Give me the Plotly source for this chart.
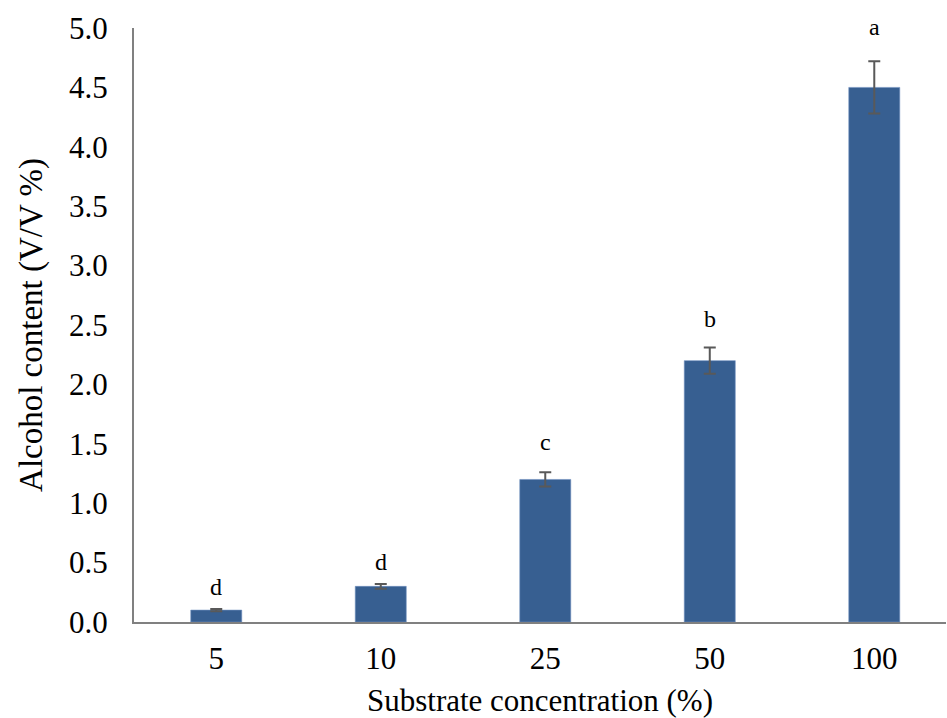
import plotly.graph_objects as go

categories = ["5", "10", "25", "50", "100"]
values = [0.10, 0.30, 1.20, 2.20, 4.50]
errors = [0.01, 0.02, 0.06, 0.11, 0.22]
letters = ["d", "d", "c", "b", "a"]
y_ticks = [0.0, 0.5, 1.0, 1.5, 2.0, 2.5, 3.0, 3.5, 4.0, 4.5, 5.0]

# pixel offsets of the significance letters above the error-bar tops (styling)
label_shift_px = [22, 22, 30, 29, 34]

font = "Liberation Serif, Times New Roman, serif"

fig = go.Figure()
fig.add_trace(go.Bar(
    x=categories, y=values, width=0.31,
    marker=dict(color="#375F91", line=dict(color="#6F8FBF", width=0.6)),
    error_y=dict(type="data", array=errors, visible=True, color="#595959", thickness=2, width=6),
    showlegend=False,
))

for i, (v, e, l, s) in enumerate(zip(values, errors, letters, label_shift_px)):
    fig.add_annotation(x=i, y=v + e, xref="x", yref="y", text=l, showarrow=False, yshift=s,
                       font=dict(family=font, size=24, color="black"))

fig.update_layout(
    width=947, height=718,
    margin=dict(l=134, r=1, t=28, b=96),
    paper_bgcolor="white", plot_bgcolor="white",
    font=dict(family=font, size=31, color="black"),
    bargap=0.69,
)
fig.update_xaxes(
    type="category", range=[-0.5, 4.436],
    showline=True, linecolor="#808080", linewidth=2,
    showgrid=False, ticks="", ticklabelstandoff=8,
    title=dict(text="Substrate concentration (%)", standoff=15, font=dict(size=31)),
)
fig.update_yaxes(
    range=[0, 5.0], tickvals=y_ticks, tickformat=".1f",
    showline=True, linecolor="#808080", linewidth=2,
    showgrid=False, zeroline=False, ticks="", ticklabelstandoff=18,
    title=dict(text="Alcohol content (V/V %)", standoff=16, font=dict(size=33)),
)

fig.write_html("out.html", config={"displayModeBar": False},
               post_script="document.body.style.margin='0';document.body.style.overflow='hidden';")
